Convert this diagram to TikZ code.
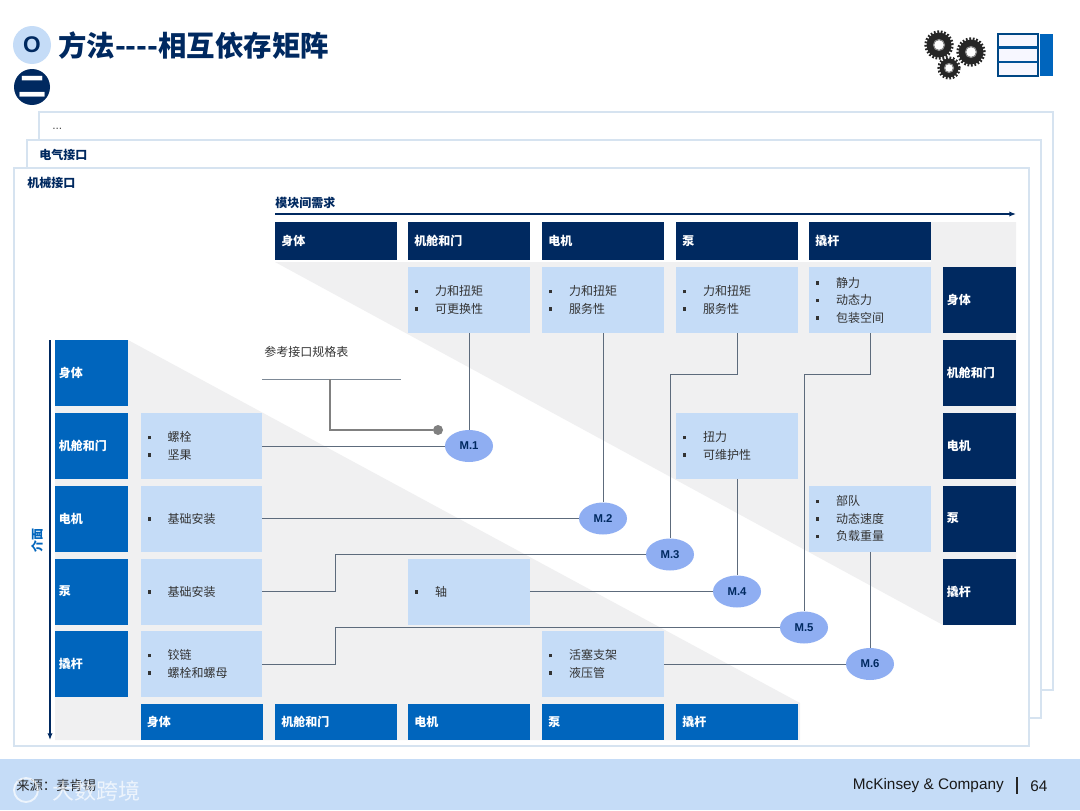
\documentclass[tikz,border=0pt]{standalone}
\usepackage{fontspec}
\usetikzlibrary{arrows.meta,calc,shapes.geometric}
\setmainfont{Noto Sans CJK SC}
\newfontfamily\latinf{Liberation Sans}
\definecolor{navy}{HTML}{002960}
\definecolor{blu}{HTML}{0065BD}
\definecolor{lite}{HTML}{C5DCF7}
\definecolor{panel}{HTML}{D6E3F0}
\definecolor{greyfill}{HTML}{F0F0F1}
\definecolor{oval}{HTML}{8FAEF2}
\definecolor{conn}{HTML}{5D6B7C}
\newcommand{\bu}{\makebox[15pt][l]{\raisebox{1.8pt}{\rule{2.6pt}{2.6pt}}}}
\tikzset{
  x=0.75pt,y=-0.75pt,
  panelbox/.style={draw=panel,line width=1pt,fill=white},
  hdr/.style={fill=navy,text=white,font=\fontsize{9}{10}\selectfont\bfseries,text width=82pt,inner xsep=4.75pt,inner ysep=0pt,minimum height=28.5pt,align=left},
  hdrr/.style={fill=navy,text=white,font=\fontsize{9}{10}\selectfont\bfseries,text width=49pt,inner xsep=3pt,inner ysep=0pt,minimum height=49.5pt,align=left},
  lft/.style={hdrr,fill=blu},
  bot/.style={hdr,fill=blu,minimum height=27pt},
  cellbox/.style={fill=lite,text=black!80,font=\fontsize{9}{13.1}\selectfont,text width=81pt,inner xsep=5pt,inner ysep=0pt,minimum height=49.5pt,align=left},
  mnode/.style={ellipse,fill=oval,text=navy,font=\latinf\fontsize{8.5}{10}\selectfont\bfseries,minimum width=36pt,minimum height=24pt,inner sep=0pt},
  plain/.style={text=navy,font=\fontsize{9}{10}\selectfont\bfseries,inner sep=0pt,anchor=west},
  link/.style={draw=conn,line width=0.75pt},
}
\begin{document}
\begin{tikzpicture}
\useasboundingbox (0,0) rectangle (1080,810);
\fill[white] (0,0) rectangle (1080,810);
% footer
\fill[lite] (0,759) rectangle (1080,810);
% panels
\draw[panelbox] (39,112) rectangle (1053,690);
\draw[panelbox] (27,140) rectangle (1041,718);
\draw[panelbox] (14,168) rectangle (1029,746);
% shaded triangles
\fill[greyfill] (275,262) -- (931,262) -- (931,222) -- (1016,222) -- (1016,625) -- (943,625) -- cycle;
\fill[greyfill] (55,340) -- (128,340) -- (800,703) -- (800,740) -- (55,740) -- cycle;
% title
\node[circle,fill=lite,minimum size=28.5pt,inner sep=0pt] (oc) at (32,45) {};
\node[font=\latinf\fontsize{17}{20}\selectfont\bfseries,text=navy,inner sep=0pt] (ot) at (32,45) {O};
\node[circle,fill=navy,minimum size=27pt,inner sep=0pt,text=white,font=\fontsize{21}{22}\selectfont\bfseries] (erc) at (32,87) {二};
\node[anchor=west,inner sep=0pt,text=navy,font=\fontsize{21.3}{24}\selectfont\bfseries] (title) at (58,46) {方法{-}{-}{-}{-}相互依存矩阵};
% gears
\foreach \n/\cx/\cy/\ro/\rh in {ga/939/45/12.5/5,gb/971/52/12.5/5,gc/949/68/9.5/4}{
  \fill[black!85] (\cx,\cy) circle[radius=\ro*0.75pt];
  \draw[black!85,line width=2pt,dash pattern=on 1.3pt off 1.3pt] (\cx,\cy) circle[radius=\ro*0.75pt+0.6pt];
  \fill[white] (\cx,\cy) circle[radius=\rh*0.75pt];
  \draw[black!45,line width=0.8pt] (\cx,\cy) circle[radius=\rh*0.75pt+0.4pt];
}
% table icon
\draw[draw=blu!70!black,line width=0.8pt,fill=blue!3] (998,34) rectangle (1038,76);
\draw[blu!80!black,line width=1.6pt] (998,47.5) -- (1038,47.5);
\draw[blu!80!black,line width=1.6pt] (998,62) -- (1038,62);
\fill[blu] (1040,33.5) rectangle (1053,76);
% panel labels
\node[anchor=west,inner sep=0pt,text=black!70,font=\latinf\fontsize{9}{10}\selectfont] (dots) at (52,129) {...};
\node[plain] (p2) at (39,155) {电气接口};
\node[plain] (p1) at (27,183) {机械接口};
\node[plain] (need) at (275,203) {模块间需求};
\coordinate (arA) at (275,214);
\coordinate (arB) at (1016,214);
\draw[navy,line width=1pt,-{Latex[length=5pt,width=4pt]}] (arA) -- (arB);
\coordinate (vA) at (50,340);
\coordinate (vB) at (50,740);
\draw[navy,line width=1pt,-{Latex[length=5pt,width=4pt]}] (vA) -- (vB);
\node[rotate=90,inner sep=0pt,text=blu,font=\fontsize{9}{10}\selectfont\bfseries] (jm) at (37,540) {介面};
% headers
\node[hdr] (h1) at (336,241) {身体};
\node[hdr] (h2) at (469,241) {机舱和门};
\node[hdr] (h3) at (603,241) {电机};
\node[hdr] (h4) at (737,241) {泵};
\node[hdr] (h5) at (870,241) {撬杆};
% right col
\node[hdrr] (r1) at (979.5,300) {身体};
\node[hdrr] (r2) at (979.5,373) {机舱和门};
\node[hdrr] (r3) at (979.5,446) {电机};
\node[hdrr] (r4) at (979.5,518.5) {泵};
\node[hdrr] (r5) at (979.5,591.5) {撬杆};
% left col
\node[lft] (l1) at (91.5,373) {身体};
\node[lft] (l2) at (91.5,446) {机舱和门};
\node[lft] (l3) at (91.5,518.5) {电机};
\node[lft] (l4) at (91.5,591.5) {泵};
\node[lft] (l5) at (91.5,664) {撬杆};
% bottom
\node[bot] (b1) at (201.5,722) {身体};
\node[bot] (b2) at (336,722) {机舱和门};
\node[bot] (b3) at (469,722) {电机};
\node[bot] (b4) at (603,722) {泵};
\node[bot] (b5) at (737,722) {撬杆};
% top cells
\node[cellbox] (t2) at (469,300) {\bu 力和扭矩\\\bu 可更换性};
\node[cellbox] (t3) at (603,300) {\bu 力和扭矩\\\bu 服务性};
\node[cellbox] (t4) at (737,300) {\bu 力和扭矩\\\bu 服务性};
\node[cellbox] (t5) at (870,300) {\bu 静力\\\bu 动态力\\\bu 包装空间};
% left cells
\node[cellbox] (c2) at (201.5,446) {\bu 螺栓\\\bu 坚果};
\node[cellbox] (c3) at (201.5,518.5) {\bu 基础安装};
\node[cellbox] (c4) at (201.5,591.5) {\bu 基础安装};
\node[cellbox] (c5) at (201.5,664) {\bu 铰链\\\bu 螺栓和螺母};
% inner cells
\node[cellbox] (d4) at (737,446) {\bu 扭力\\\bu 可维护性};
\node[cellbox] (d6) at (870,518.5) {\bu 部队\\\bu 动态速度\\\bu 负载重量};
\node[cellbox] (s4) at (469,591.5) {\bu 轴};
\node[cellbox] (p6) at (603,664) {\bu 活塞支架\\\bu 液压管};
% ovals
\node[mnode] (m1) at (469,446) {M.1};
\node[mnode] (m2) at (603,518.5) {M.2};
\node[mnode] (m3) at (670,554.5) {M.3};
\node[mnode] (m4) at (737,591.5) {M.4};
\node[mnode] (m5) at (804,627.5) {M.5};
\node[mnode] (m6) at (870,664) {M.6};
% bends
\coordinate (k3) at (670,374);
\coordinate (k5) at (804,374);
\coordinate (j3) at (335,554.5);
\coordinate (j5) at (335,627.5);
% links
\draw[link] (t2.south) -- (m1.north);
\draw[link] (t3.south) -- (m2.north);
\draw[link] (t4.south) |- (k3) -- (m3.north);
\draw[link] (t5.south) |- (k5) -- (m5.north);
\draw[link] (d4.south) -- (m4.north);
\draw[link] (d6.south) -- (m6.north);
\draw[link] (c2.east) -- (m1.west);
\draw[link] (c3.east) -- (m2.west);
\draw[link] (c4.east) -| (j3) -- (m3.west);
\draw[link] (c5.east) -| (j5) -- (m5.west);
\draw[link] (s4.east) -- (m4.west);
\draw[link] (p6.east) -- (m6.west);
% reference
\node[anchor=west,inner sep=0pt,text=black!80,font=\fontsize{9}{10}\selectfont] (spec) at (264,352) {参考接口规格表};
\coordinate (sa) at (262,379);
\coordinate (sb) at (401,379);
\coordinate (sc) at (330,379);
\draw[conn!80,line width=0.6pt] (sa) -- (sb);
\node[circle,fill=black!50,minimum size=7.5pt,inner sep=0pt] (dot) at (438,430) {};
\draw[black!50,line width=1.4pt] (sc) |- (dot.west);
% footer text
\node[anchor=west,inner sep=0pt,text=black!85,font=\fontsize{10}{11}\selectfont] (src) at (16,785) {来源：麦肯锡};
\node[anchor=west,inner sep=0pt,text=white,opacity=0.7,font=\fontsize{16.5}{18}\selectfont] (wm) at (52,791) {大数跨境};
\draw[white,opacity=0.7,line width=1.4pt] (26,790) circle[radius=9pt];
\node[anchor=east,inner sep=0pt,text=black!90,font=\latinf\fontsize{11.5}{13}\selectfont] (mck) at (1004,786) {McKinsey \& Company};
\coordinate (ba) at (1017,777);
\coordinate (bb) at (1017,794);
\draw[black!85,line width=0.9pt] (ba) -- (bb);
\node[anchor=west,inner sep=0pt,text=black!90,font=\latinf\fontsize{11.5}{13}\selectfont] (pg) at (1030,786) {64};
\end{tikzpicture}
\end{document}
